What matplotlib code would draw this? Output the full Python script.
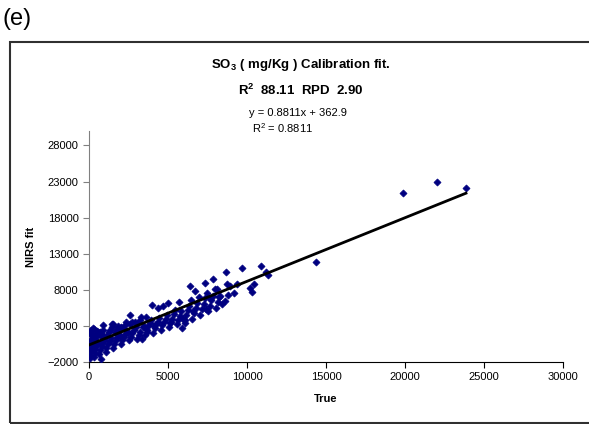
import matplotlib.pyplot as plt
import matplotlib.patches as mpatches
import numpy as np

# values (True, NIRS fit)
true_vals = [
    # x ~ 0-300
    50, 80, 120, 150, 200, 100, 60, 180, 250, 220, 30, 140, 270, 90, 160, 240, 40, 190, 110, 280,
    # x ~ 300-600
    320, 350, 400, 450, 500, 380, 420, 550, 480, 330, 520, 410, 360, 580,
    # x ~ 600-1000
    760, 650, 700, 800, 850, 900, 950, 680, 720, 890, 870, 620, 980, 780,
    # x ~ 1000-1500
    1050, 1100, 1200, 1300, 1400, 1150, 1250, 1350, 1450, 1000, 1480,
    # x ~ 1500-2000
    1550, 1600, 1700, 1800, 1900, 1650, 1750, 1850, 1520, 1950, 1980,
    # x ~ 2000-2500
    2050, 2100, 2200, 2300, 2400, 2150, 2250, 2350, 2450, 2000,
    # x ~ 2500-3000
    2550, 2650, 2750, 2850, 2950, 2600, 2700, 2590, 2910,
    # x ~ 3000-3500
    3050, 3150, 3250, 3350, 3450, 3100, 3200, 3300, 3400,
    # x ~ 3500-4000
    3550, 3650, 3750, 3850, 3950, 3600, 3990, 3700,
    # x ~ 4000-4500
    4050, 4150, 4250, 4350, 4450, 4370, 4100,
    # x ~ 4500-5000
    4550, 4650, 4750, 4850, 4950, 4680, 5000,
    # x ~ 5000-5500
    5050, 5150, 5250, 5350, 5450, 5200,
    # x ~ 5500-6000
    5550, 5650, 5750, 5850, 5950, 5700, 5900,
    # x ~ 6000-6500
    6050, 6150, 6250, 6350, 6450, 6390, 6100,
    # x ~ 6500-7000
    6550, 6650, 6750, 6850, 6950, 6700, 6600,
    # x ~ 7000-7500
    7050, 7150, 7250, 7350, 7450, 7340, 7400,
    # x ~ 7500-8000
    7550, 7650, 7750, 7850, 7950, 7850, 7660,
    # x ~ 8000-8500
    8050, 8150, 8250, 8420, 8100, 8300,
    # x ~ 8500-9000
    8670, 8730, 8920, 8800, 8600,
    # x ~ 9000-10500
    9370, 9680, 9200, 10190, 10320, 10440,
    # x ~ 10800-11400
    10886, 11200, 11330,
    # outliers
    14370, 19870, 22025, 23860,
]
nirs_vals = [
    -1500, -1000, -500, 0, 300, 600, 900, 1200, 1500, 1800, 2100, 2400, 2700, 500, 1000, 1600, 2000, -200, 800, 1400,
    -1300, -700, -200, 300, 700, 1100, 1500, 1900, 2300, 2600, 400, 1000, 1700, 2100,
    -1580, -900, -300, 200, 600, 1000, 1400, 1800, 2200, 3140, 2500, 700, 1300, 2000,
    -600, 0, 500, 900, 1300, 1700, 2100, 2500, 2900, 1100, 3280,
    0, 500, 1000, 1400, 1800, 2200, 2600, 3000, 3300, 1600, 2400,
    500, 1100, 1500, 1900, 2300, 2700, 3100, 3500, 2000, 2900,
    1000, 1500, 2000, 2400, 2800, 3200, 3600, 4530, 3560,
    1200, 1700, 2200, 1190, 3000, 3400, 3800, 4200, 2900,
    1800, 2500, 3000, 3400, 3800, 4300, 5920, 2200,
    2000, 2700, 3200, 3600, 4100, 5500, 3000,
    2500, 3100, 3600, 4000, 4500, 5780, 6190,
    2800, 3400, 4000, 4600, 5200, 3600,
    3200, 3800, 4400, 5000, 3970, 6300, 2700,
    3800, 4500, 5200, 5800, 6600, 8550, 3420,
    4000, 4800, 5500, 6200, 7000, 7800, 5100,
    4500, 5300, 6000, 6800, 7600, 8970, 5360,
    5000, 5800, 6600, 7200, 8100, 9530, 6890,
    5500, 6300, 7000, 6060, 8140, 7170,
    10500, 8830, 8550, 7300, 6500,
    8830, 11055, 7500, 8280, 7720, 8830,
    11333, 10500, 10080,
    11889, 21472, 23000, 22167,
]

slope = 0.8811
intercept = 362.9

fig = plt.figure(figsize=(5.89, 4.24), dpi=100)
plt.rcParams['font.family'] = ['Liberation Sans', 'DejaVu Sans']

# chart frame
frame = mpatches.Rectangle((10 / 589, 1 / 424), 1.0, (423 - 42) / 424, transform=fig.transFigure,
                           fill=False, edgecolor='#303030', linewidth=1.5)
fig.patches.append(frame)

fig.text(0.005, 0.955, '(e)', fontsize=17, va='center', ha='left')

ax = fig.add_axes([89 / 589, (424 - 362) / 424, (563 - 89) / 589, (362 - 131) / 424])
ax.scatter(true_vals, nirs_vals, marker='D', s=13, color='#000080', edgecolors='#000080', linewidths=0.5, zorder=3)

xs = np.array([0, max(true_vals)])
ax.plot(xs, slope * xs + intercept, color='black', linewidth=2, zorder=4)

ax.set_xlim(0, 30000)
ax.set_ylim(-2000, 30000)
ax.set_xticks(range(0, 30001, 5000))
ax.set_yticks(range(-2000, 28001, 5000))
ax.tick_params(direction='out', length=4, labelsize=8, width=0.8)
ax.spines['top'].set_visible(False)
ax.spines['right'].set_visible(False)
ax.spines['left'].set_color('#808080')
ax.spines['bottom'].set_color('black')
ax.tick_params(axis='y', colors='#808080', labelcolor='black')
ax.set_xlabel('True', fontsize=8, fontweight='bold', labelpad=8)
ax.set_ylabel('NIRS fit', fontsize=8, fontweight='bold', labelpad=8)

fig.text(0.51, (424 - 65) / 424, r'SO$_\mathregular{3}$ ( mg/Kg ) Calibration fit.', fontsize=9.5,
         fontweight='bold', ha='center', va='center')
fig.text(0.51, (424 - 90) / 424, r'R$^\mathregular{2}$  88.11  RPD  2.90', fontsize=9.5,
         fontweight='bold', ha='center', va='center')
fig.text(0.505, (424 - 113) / 424, 'y = 0.8811x + 362.9', fontsize=8, ha='center', va='center')
fig.text(0.48, (424 - 128) / 424, r'R$^\mathregular{2}$ = 0.8811', fontsize=8, ha='center', va='center')

plt.savefig('out.png', dpi=100)
